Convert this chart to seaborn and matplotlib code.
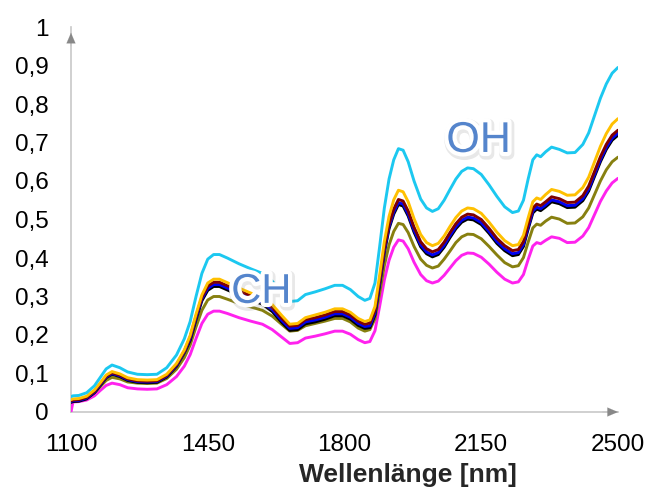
import seaborn as sns
import matplotlib.pyplot as plt
import matplotlib.patheffects as pe
import pandas as pd

# wavelengths [nm]
wl = [1100, 1105, 1120, 1140, 1160, 1175, 1190, 1205, 1225, 1245, 1270, 1295, 1320, 1345, 1370,
      1390, 1405, 1420, 1435, 1450, 1465, 1480, 1500, 1530, 1560, 1590, 1615, 1640, 1660, 1680,
      1700, 1725, 1750, 1775, 1795, 1815, 1835, 1852, 1865, 1878, 1890, 1902, 1914, 1926, 1938,
      1950, 1963, 1978, 1995, 2010, 2025, 2040, 2055, 2070, 2085, 2100, 2115, 2130, 2150, 2170,
      2190, 2210, 2230, 2245, 2258, 2270, 2282, 2292, 2302, 2315, 2330, 2350, 2370, 2390, 2410,
      2425, 2440, 2455, 2470, 2485, 2500]

cyan = [0.040, 0.042, 0.043, 0.050, 0.068, 0.090, 0.112, 0.122, 0.115, 0.104, 0.098, 0.097, 0.098, 0.115, 0.148,
        0.190, 0.235, 0.300, 0.360, 0.397, 0.409, 0.409, 0.400, 0.385, 0.372, 0.360, 0.340, 0.310, 0.287, 0.289,
        0.305, 0.312, 0.320, 0.329, 0.329, 0.318, 0.300, 0.290, 0.295, 0.335, 0.430, 0.530, 0.605, 0.655, 0.684,
        0.680, 0.650, 0.600, 0.553, 0.530, 0.521, 0.528, 0.550, 0.578, 0.605, 0.625, 0.634, 0.632, 0.617, 0.590,
        0.560, 0.533, 0.518, 0.522, 0.550, 0.605, 0.655, 0.668, 0.663, 0.676, 0.688, 0.682, 0.673, 0.674, 0.695,
        0.725, 0.770, 0.815, 0.852, 0.880, 0.895]

gold = [0.032, 0.034, 0.035, 0.041, 0.057, 0.076, 0.096, 0.105, 0.099, 0.089, 0.084, 0.083, 0.084, 0.098, 0.126,
        0.161, 0.199, 0.254, 0.304, 0.335, 0.345, 0.345, 0.336, 0.322, 0.309, 0.298, 0.279, 0.250, 0.228, 0.230,
        0.245, 0.252, 0.259, 0.268, 0.268, 0.259, 0.243, 0.235, 0.239, 0.274, 0.356, 0.443, 0.508, 0.551, 0.576,
        0.572, 0.546, 0.502, 0.461, 0.440, 0.432, 0.438, 0.457, 0.482, 0.505, 0.522, 0.530, 0.528, 0.516, 0.493,
        0.467, 0.445, 0.432, 0.435, 0.459, 0.504, 0.546, 0.556, 0.552, 0.565, 0.578, 0.573, 0.563, 0.564, 0.583,
        0.610, 0.650, 0.690, 0.723, 0.748, 0.762]

maroon = [0.029, 0.031, 0.032, 0.038, 0.054, 0.073, 0.093, 0.102, 0.096, 0.086, 0.081, 0.080, 0.081, 0.095, 0.123,
          0.158, 0.195, 0.249, 0.298, 0.327, 0.337, 0.337, 0.328, 0.315, 0.302, 0.291, 0.272, 0.243, 0.223, 0.225,
          0.240, 0.245, 0.252, 0.261, 0.261, 0.252, 0.236, 0.228, 0.231, 0.264, 0.343, 0.426, 0.488, 0.527, 0.552,
          0.548, 0.522, 0.480, 0.442, 0.424, 0.416, 0.422, 0.441, 0.466, 0.489, 0.506, 0.514, 0.512, 0.500, 0.477,
          0.451, 0.432, 0.419, 0.422, 0.443, 0.488, 0.530, 0.540, 0.536, 0.546, 0.559, 0.554, 0.544, 0.545, 0.562,
          0.587, 0.625, 0.663, 0.695, 0.719, 0.732]

blue = [0.027, 0.029, 0.030, 0.036, 0.052, 0.071, 0.091, 0.100, 0.094, 0.084, 0.079, 0.078, 0.079, 0.093, 0.121,
        0.156, 0.191, 0.245, 0.294, 0.321, 0.331, 0.331, 0.322, 0.309, 0.296, 0.285, 0.266, 0.237, 0.217, 0.219,
        0.234, 0.239, 0.246, 0.255, 0.255, 0.246, 0.230, 0.222, 0.224, 0.257, 0.336, 0.419, 0.481, 0.519, 0.544,
        0.540, 0.514, 0.472, 0.434, 0.416, 0.408, 0.414, 0.433, 0.458, 0.481, 0.498, 0.506, 0.504, 0.492, 0.469,
        0.443, 0.424, 0.411, 0.414, 0.435, 0.480, 0.522, 0.532, 0.528, 0.538, 0.551, 0.546, 0.536, 0.537, 0.554,
        0.579, 0.617, 0.655, 0.687, 0.711, 0.724]

black = [0.025, 0.027, 0.028, 0.034, 0.050, 0.069, 0.089, 0.098, 0.092, 0.082, 0.077, 0.076, 0.077, 0.091, 0.119,
         0.154, 0.186, 0.240, 0.289, 0.316, 0.326, 0.326, 0.317, 0.304, 0.291, 0.280, 0.261, 0.232, 0.212, 0.214,
         0.229, 0.234, 0.241, 0.250, 0.250, 0.241, 0.225, 0.217, 0.219, 0.252, 0.331, 0.414, 0.476, 0.514, 0.539,
         0.535, 0.509, 0.467, 0.429, 0.411, 0.403, 0.409, 0.428, 0.453, 0.476, 0.493, 0.501, 0.499, 0.487, 0.464,
         0.438, 0.419, 0.406, 0.409, 0.430, 0.475, 0.517, 0.527, 0.523, 0.533, 0.546, 0.541, 0.531, 0.532, 0.549,
         0.574, 0.612, 0.650, 0.682, 0.706, 0.719]

olive = [0.030, 0.031, 0.032, 0.037, 0.050, 0.066, 0.082, 0.090, 0.086, 0.078, 0.075, 0.074, 0.075, 0.087, 0.111,
         0.141, 0.174, 0.221, 0.264, 0.291, 0.300, 0.300, 0.293, 0.282, 0.273, 0.264, 0.249, 0.227, 0.210, 0.212,
         0.224, 0.230, 0.236, 0.243, 0.243, 0.234, 0.218, 0.210, 0.214, 0.242, 0.309, 0.380, 0.434, 0.469, 0.490,
         0.487, 0.466, 0.430, 0.397, 0.381, 0.374, 0.379, 0.397, 0.418, 0.440, 0.455, 0.462, 0.461, 0.450, 0.430,
         0.408, 0.388, 0.377, 0.380, 0.401, 0.441, 0.478, 0.488, 0.485, 0.496, 0.506, 0.501, 0.490, 0.491, 0.507,
         0.530, 0.565, 0.600, 0.629, 0.650, 0.662]

magenta = [0.000, 0.026, 0.027, 0.031, 0.042, 0.056, 0.069, 0.075, 0.071, 0.063, 0.060, 0.059, 0.060, 0.071, 0.092,
           0.119, 0.149, 0.191, 0.230, 0.254, 0.262, 0.262, 0.256, 0.245, 0.236, 0.228, 0.214, 0.194, 0.178, 0.180,
           0.192, 0.197, 0.203, 0.210, 0.210, 0.202, 0.188, 0.180, 0.183, 0.211, 0.275, 0.343, 0.394, 0.428, 0.447,
           0.444, 0.424, 0.389, 0.357, 0.341, 0.335, 0.340, 0.355, 0.374, 0.393, 0.407, 0.413, 0.412, 0.402, 0.384,
           0.363, 0.345, 0.335, 0.338, 0.357, 0.396, 0.431, 0.440, 0.437, 0.446, 0.455, 0.451, 0.440, 0.441, 0.457,
           0.479, 0.513, 0.547, 0.574, 0.595, 0.607]

series = {"magenta": magenta, "olive": olive, "black": black, "blue": blue,
          "maroon": maroon, "gold": gold, "cyan": cyan}
colors = {"magenta": "#FF22EE", "olive": "#878010", "black": "#000000", "blue": "#0000F0",
          "maroon": "#800000", "gold": "#FFC000", "cyan": "#1CC8F0"}

df = pd.concat([pd.DataFrame({"wl": wl, "val": v, "probe": k}) for k, v in series.items()])

sns.set_style("white")
plt.rcParams['font.family'] = ['Liberation Sans', 'DejaVu Sans']

fig = plt.figure(figsize=(6.5, 4.88), dpi=100)
ax = fig.add_axes([71 / 650, 76 / 488, 547 / 650, 385 / 488])

sns.lineplot(data=df, x="wl", y="val", hue="probe", palette=colors, linewidth=2.1,
             legend=False, ax=ax, sort=False)
for ln in ax.get_lines():
    ln.set_solid_joinstyle("round")

ax.set_xlim(1100, 2500)
ax.set_ylim(0, 1)
ax.set_xticks([1100, 1450, 1800, 2150, 2500])
ax.set_yticks([0, 0.1, 0.2, 0.3, 0.4, 0.5, 0.6, 0.7, 0.8, 0.9, 1])
ax.set_yticklabels(["0", "0,1", "0,2", "0,3", "0,4", "0,5", "0,6", "0,7", "0,8", "0,9", "1"])
ax.tick_params(axis="both", length=0, labelsize=17.5, labelcolor="black")
ax.tick_params(axis="x", pad=16)
ax.tick_params(axis="y", pad=16)
ax.set_xlabel("")
ax.set_ylabel("")

sns.despine(ax=ax)
for s in ["left", "bottom"]:
    ax.spines[s].set_color("#C8C8C8")
    ax.spines[s].set_linewidth(1.2)
    ax.spines[s].set_zorder(0)

# arrow heads
ax.annotate("", xy=(1100, 0.985), xytext=(1100, 0.95), annotation_clip=False,
            arrowprops=dict(arrowstyle="-|>,head_length=0.75,head_width=0.32",
                            color="#888888", lw=0.1, shrinkA=0, shrinkB=0))
ax.annotate("", xy=(2500, 0), xytext=(2460, 0), annotation_clip=False,
            arrowprops=dict(arrowstyle="-|>,head_length=0.75,head_width=0.32",
                            color="#888888", lw=0.1, shrinkA=0, shrinkB=0))

# soft glow + light shadow behind the band labels
effects = [pe.SimpleLineShadow(offset=(1, -1.5), shadow_color="#808080", alpha=0.18, linewidth=8),
           pe.Stroke(linewidth=6, foreground="white"), pe.Normal()]
ax.text(2143, 0.704, "OH", fontsize=31, color="#5585CC", ha="center", va="center",
        path_effects=effects, zorder=5)
ax.text(1587, 0.312, "CH", fontsize=30, color="#5585CC", ha="center", va="center",
        path_effects=effects, zorder=5)

fig.text(408 / 650, 6 / 488, "Wellenlänge [nm]", fontsize=19, fontweight="bold",
         ha="center", va="baseline")

fig.savefig("out.png", dpi=100)
